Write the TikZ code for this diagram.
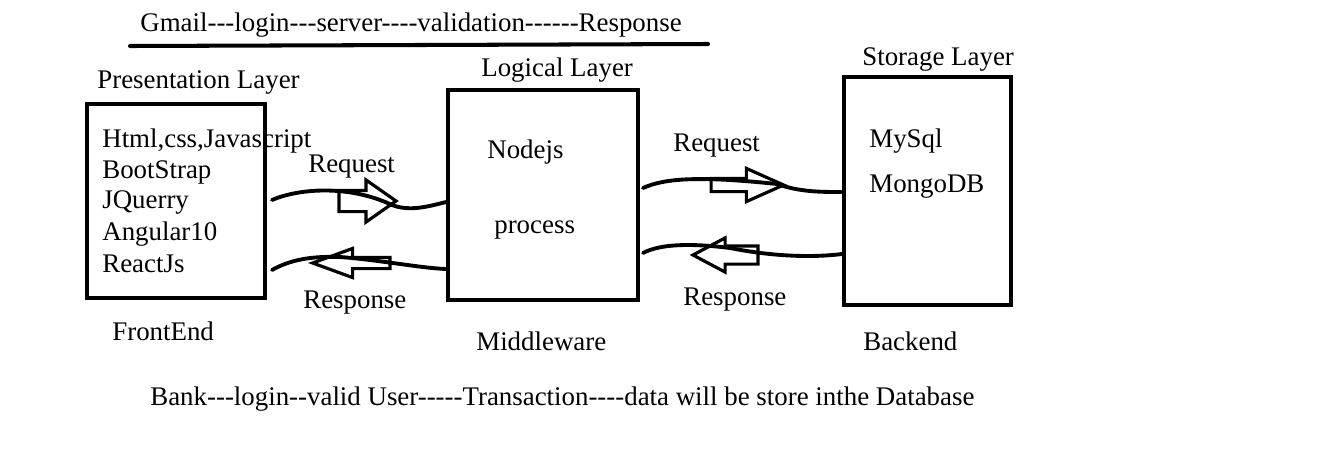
\documentclass[tikz,border=0pt]{standalone}
\usepackage{fontspec}
\setmainfont{Liberation Serif}[Ligatures=TeXOff]
\usetikzlibrary{shapes.arrows, calc, arrows.meta}

\begin{document}
\begin{tikzpicture}[x=0.02cm, y=-0.02cm,
    lbl/.style={anchor=base west, inner sep=0, font=\fontsize{15.3}{18}\selectfont},
    layer/.style={draw, line width=2.3pt, inner sep=0},
    wave/.style={line width=2.2pt, line cap=round},
    blockarrow/.style={single arrow, draw, line width=1.8pt, inner xsep=0,
      single arrow head indent=0}]
          \useasboundingbox (0,0) rectangle (1325,460);

          % title
          \node [lbl] (gmail) at (140,31) {Gmail---login---server----validation------Response};
          \draw [line width=2.3pt, line cap=round] (130,46) -- (420,45) -- (708,44);

          % layers
          \node [layer, minimum width=3.56cm, minimum height=3.88cm] (pres) at (176,201) {};
          \node [layer, minimum width=3.8cm, minimum height=4.2cm] (logic) at (543,195) {};
          \node [layer, minimum width=3.34cm, minimum height=4.56cm] (store) at (927.5,191) {};

          \node [lbl] (presT) at (97,88) {Presentation Layer};
          \node [lbl] (logicT) at (481,76) {Logical Layer};
          \node [lbl] (storeT) at (862,65) {Storage Layer};

          \node [lbl] (html) at (102,147) {Html,css,Javascript};
          \node [lbl] (boot) at (102,178) {BootStrap};
          \node [lbl] (jq) at (102,208) {JQuerry};
          \node [lbl] (ang) at (102,240) {Angular10};
          \node [lbl] (react) at (102,272) {ReactJs};

          \node [lbl] (node) at (487,158) {Nodejs};
          \node [lbl] (proc) at (494,233) {process};

          \node [lbl] (mysql) at (869,147) {MySql};
          \node [lbl] (mongo) at (869,192) {MongoDB};

          \node [lbl] (front) at (112,340) {FrontEnd};
          \node [lbl] (middle) at (476,350) {Middleware};
          \node [lbl] (back) at (863,350) {Backend};

          \node [lbl] (bank) at (150,405) {Bank---login--valid User-----Transaction----data will be store inthe Database};

          % wavy connectors
          \draw [wave] ($(pres.east)+(5,-1)$) .. controls (300,188) and (350,185) .. (392,205)
                .. controls (410,212) and (430,206) .. ($(logic.west)+(0,7)$);
          \draw [wave] ($(pres.east)+(5,69)$) .. controls (290,260) and (310,256) .. (340,257)
                .. controls (380,260) and (420,268) .. ($(logic.west)+(0,74)$);
          \draw [wave] ($(logic.east)+(3,-7)$) .. controls (665,178) and (700,176) .. (777,184)
                .. controls (800,192) and (820,192) .. ($(store.west)+(0,1)$);
          \draw [wave] ($(logic.east)+(3,58)$) .. controls (660,244) and (690,243) .. (730,248)
                .. controls (770,256) and (810,258) .. ($(store.west)+(0,63)$);

          % block arrows
          \node [blockarrow, minimum height=1.14cm, inner ysep=0.18cm,
                 single arrow head extend=0.21cm, single arrow tip angle=70] (req1) at (360,201) {};
          \node [blockarrow, shape border rotate=180, minimum height=1.55cm, inner ysep=0.08cm,
                 single arrow head extend=0.18cm, single arrow tip angle=40] (res1) at (359,263) {};
          \node [blockarrow, minimum height=1.45cm, inner ysep=0.1cm,
                 single arrow head extend=0.2cm, single arrow tip angle=48] (req2) at (740,185) {};
          \node [blockarrow, shape border rotate=180, minimum height=1.3cm, inner ysep=0.15cm,
                 single arrow head extend=0.16cm, single arrow tip angle=56] (res2) at (734,255) {};

          \node [lbl] (reqL) at (308,172) {Request};
          \node [lbl] (resL) at (303,308) {Response};
          \node [lbl] (reqR) at (673,151) {Request};
          \node [lbl] (resR) at (683,305) {Response};

      \end{tikzpicture}
\end{document}
